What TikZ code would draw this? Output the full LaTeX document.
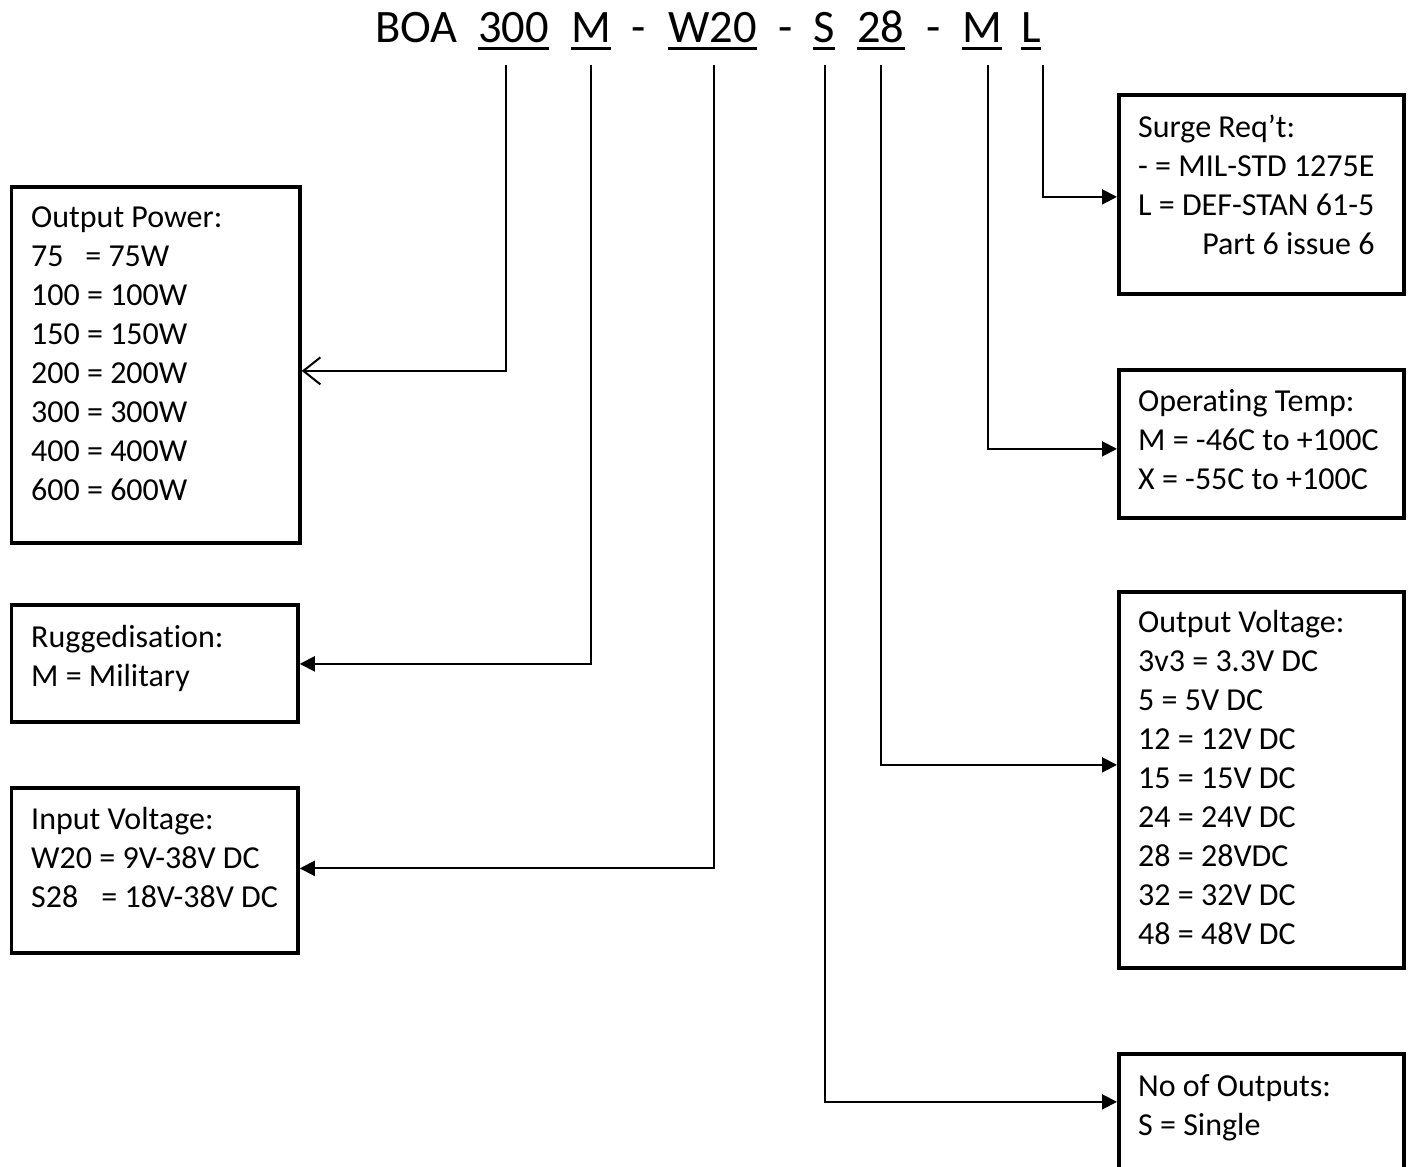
\documentclass[tikz,border=0pt]{standalone}
\usepackage{fontspec}
\setmainfont{Carlito}[Ligatures={NoCommon}]
\usetikzlibrary{arrows.meta}
\begin{document}
\begin{tikzpicture}[x=1pt,y=-1pt,
  boxst/.style={draw, line width=3.75pt, rectangle, inner sep=0pt, anchor=north west},
  conn/.style={line width=2pt},
  fillarrow/.style={conn, -{Triangle[length=15pt,width=15pt]}},
  openarrow/.style={conn, -{Straight Barb[length=17pt,width=27pt]}},
  ttl/.style={anchor=base west, inner sep=0pt, font=\fontsize{46.5}{56}\selectfont},
  uline/.style={line width=3pt},
  txt/.style={anchor=base west, inner sep=0pt, font=\fontsize{32}{39}\selectfont}]
\useasboundingbox (0,0) rectangle (1409,1167);
\clip (0,0) rectangle (1409,1167);

% title pieces
\node[ttl] (tBOA) at (375,42) {BOA};
\node[ttl] (t300) at (478,42) {300};
\node[ttl] (tM)   at (571,42) {M};
\node[ttl] (th1)  at (631,42) {-};
\node[ttl] (tW)   at (668,42) {W20};
\node[ttl] (th2)  at (778,42) {-};
\node[ttl] (tS)   at (813,42) {S};
\node[ttl] (t28)  at (857,42) {28};
\node[ttl] (th3)  at (926,42) {-};
\node[ttl] (tM2)  at (962,42) {M};
\node[ttl] (tL)   at (1021,42) {L};
\foreach \n in {t300,tM,tW,tS,t28,tM2,tL}
  \draw[uline] ([yshift=-6.5pt]\n.base west) -- ([yshift=-6.5pt]\n.base east);

% boxes
\node[boxst, minimum width=288.5pt, minimum height=356pt] (power)   at (9.5,185) {};
\node[boxst, minimum width=286.5pt, minimum height=117pt] (rugged)  at (9.5,603) {};
\node[boxst, minimum width=286.5pt, minimum height=165pt] (input)   at (9.5,786) {};
\node[boxst, minimum width=285pt,   minimum height=199pt] (surge)   at (1117,93) {};
\node[boxst, minimum width=285pt,   minimum height=148pt] (optemp)  at (1117,368) {};
\node[boxst, minimum width=285pt,   minimum height=376pt] (outvolt) at (1117,590) {};
\node[boxst, minimum width=285pt,   minimum height=150pt] (noout)   at (1117,1052) {};

% box texts
\node[txt] (powertxt) at (31,227) {\begin{tabular}[t]{@{}l@{}}Output Power:\\75\ \ \ = 75W\\100 = 100W\\150 = 150W\\200 = 200W\\300 = 300W\\400 = 400W\\600 = 600W\end{tabular}};
\node[txt] (ruggedtxt) at (31,647) {\begin{tabular}[t]{@{}l@{}}Ruggedisation:\\M = Military\end{tabular}};
\node[txt] (inputtxt) at (31,829) {\begin{tabular}[t]{@{}l@{}}Input Voltage:\\W20 = 9V-38V DC\\S28\hspace{0.72em}= 18V-38V DC\end{tabular}};
\node[txt] (surgetxt) at (1138,137) {\begin{tabular}[t]{@{}l@{}}Surge Req’t:\\- = MIL-STD 1275E\\L = DEF-STAN 61-5\\\multicolumn{1}{@{}r@{}}{Part 6 issue 6}\end{tabular}};
\node[txt] (optemptxt) at (1138,411) {\begin{tabular}[t]{@{}l@{}}Operating Temp:\\M = -46C to +100C\\X = -55C to +100C\end{tabular}};
\node[txt] (outvolttxt) at (1138,632) {\begin{tabular}[t]{@{}l@{}}Output Voltage:\\3v3 = 3.3V DC\\5 = 5V DC\\12 = 12V DC\\15 = 15V DC\\24 = 24V DC\\28 = 28VDC\\32 = 32V DC\\48 = 48V DC\end{tabular}};
\node[txt] (noouttxt) at (1138,1096) {\begin{tabular}[t]{@{}l@{}}No of Outputs:\\S = Single\end{tabular}};

% connector tops
\coordinate (c300) at (506,65);
\coordinate (cM)   at (591,65);
\coordinate (cW)   at (714,65);
\coordinate (cS)   at (825,65);
\coordinate (c28)  at (881,65);
\coordinate (cM2)  at (988,65);
\coordinate (cL)   at (1043,65);

% connectors
\draw[openarrow] (c300) |- ([yshift=-6pt]power.east);
\draw[fillarrow] (cM)   |- ([yshift=-0.5pt]rugged.east);
\draw[fillarrow] (cW)   |- ([yshift=2pt]input.east);
\draw[fillarrow] (cS)   |- ([yshift=27pt]noout.west);
\draw[fillarrow] (c28)  |- ([yshift=15pt]outvolt.west);
\draw[fillarrow] (cM2)  |- ([yshift=-5pt]optemp.west);
\draw[fillarrow] (cL)   |- ([yshift=-2.5pt]surge.west);
\end{tikzpicture}
\end{document}
